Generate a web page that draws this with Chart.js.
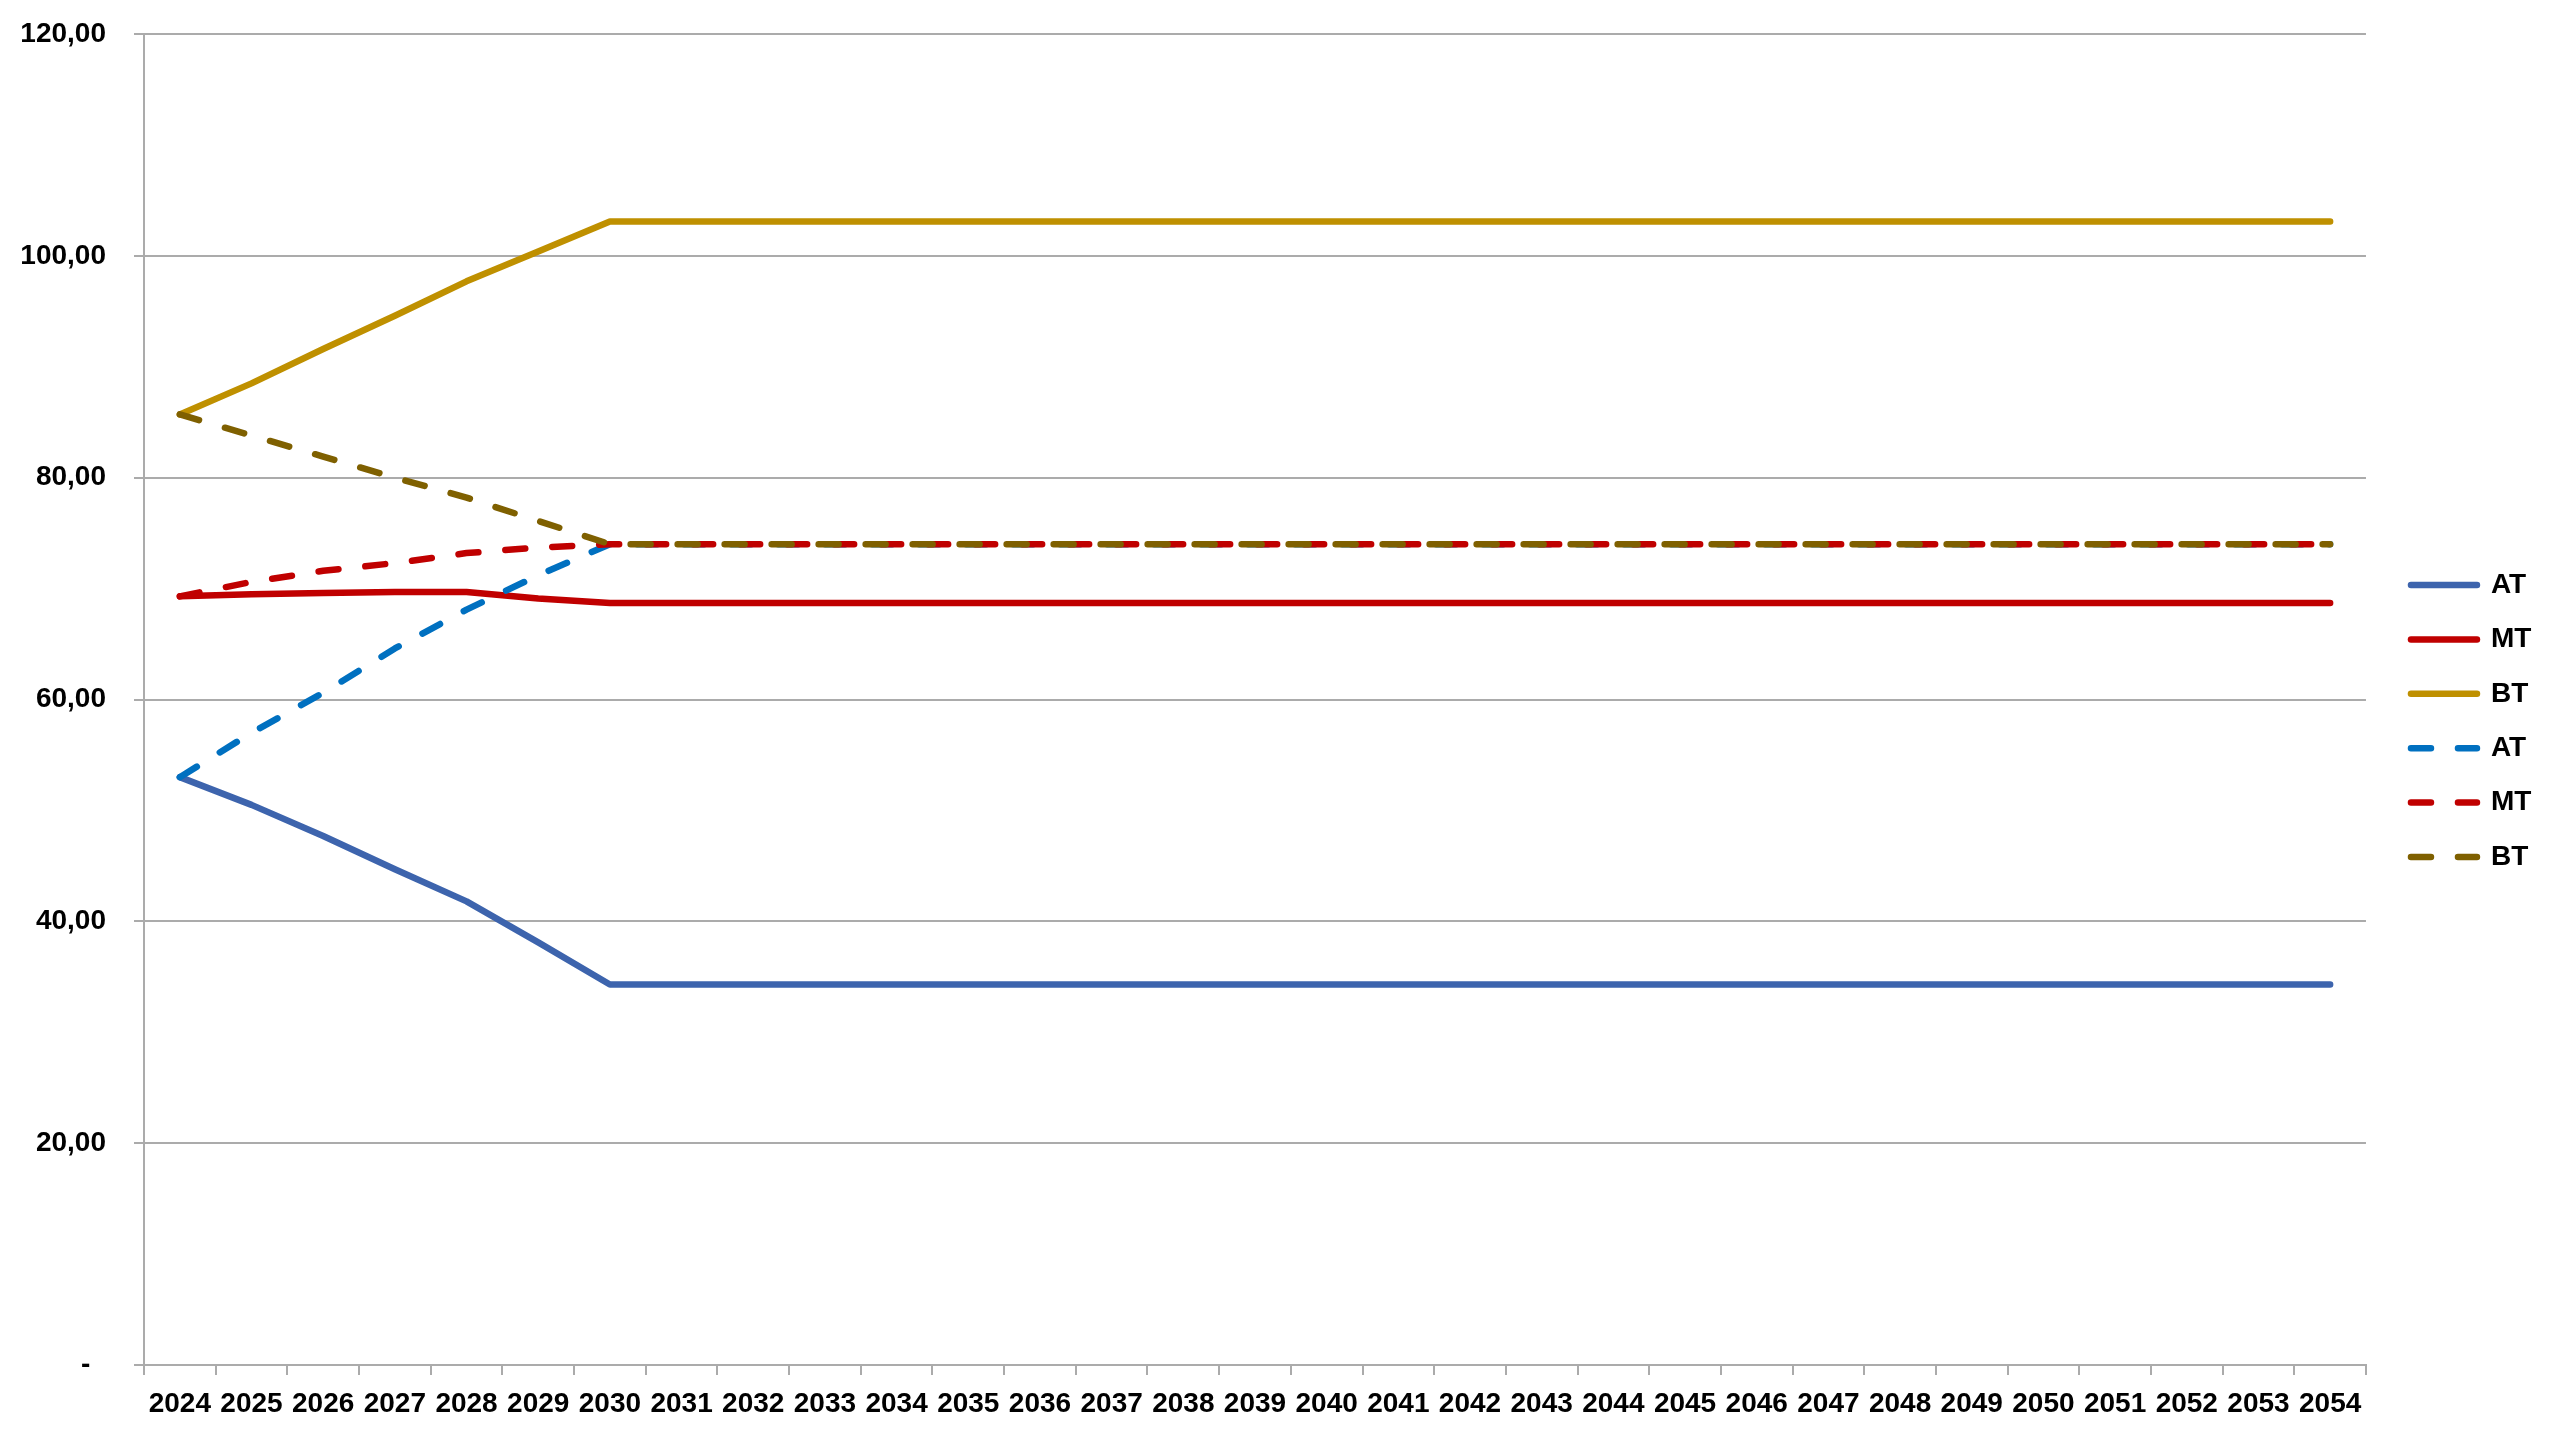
<!DOCTYPE html>
<html>
<head>
<meta charset="utf-8">
<script src="https://cdn.jsdelivr.net/npm/chart.js@4/dist/chart.umd.min.js"></script>
<style>
  html, body { margin: 0; padding: 0; background: #ffffff; }
  #wrap { width: 2560px; height: 1440px; }
</style>
</head>
<body>
<div id="wrap"><canvas id="chart" width="2560" height="1440"></canvas></div>
<script>
// Years on the horizontal axis
const years = [
  '2024','2025','2026','2027','2028','2029','2030','2031','2032','2033','2034',
  '2035','2036','2037','2038','2039','2040','2041','2042','2043','2044','2045',
  '2046','2047','2048','2049','2050','2051','2052','2053','2054'
];

// Solid trajectories
const atSolid = [53.0, 50.5, 47.7, 44.7, 41.8, 38.1, 34.3,
  34.3, 34.3, 34.3, 34.3, 34.3, 34.3, 34.3, 34.3, 34.3, 34.3, 34.3, 34.3, 34.3, 34.3, 34.3,
  34.3, 34.3, 34.3, 34.3, 34.3, 34.3, 34.3, 34.3, 34.3];
const mtSolid = [69.3, 69.5, 69.6, 69.7, 69.7, 69.1, 68.7,
  68.7, 68.7, 68.7, 68.7, 68.7, 68.7, 68.7, 68.7, 68.7, 68.7, 68.7, 68.7, 68.7, 68.7, 68.7,
  68.7, 68.7, 68.7, 68.7, 68.7, 68.7, 68.7, 68.7, 68.7];
const btSolid = [85.7, 88.5, 91.6, 94.6, 97.7, 100.4, 103.1,
  103.1, 103.1, 103.1, 103.1, 103.1, 103.1, 103.1, 103.1, 103.1, 103.1, 103.1, 103.1, 103.1, 103.1, 103.1,
  103.1, 103.1, 103.1, 103.1, 103.1, 103.1, 103.1, 103.1, 103.1];

// Dashed trajectories
const atDashed = [53.0, 57.0, 60.6, 64.6, 68.1, 71.2, 74.0,
  74.0, 74.0, 74.0, 74.0, 74.0, 74.0, 74.0, 74.0, 74.0, 74.0, 74.0, 74.0, 74.0, 74.0, 74.0,
  74.0, 74.0, 74.0, 74.0, 74.0, 74.0, 74.0, 74.0, 74.0];
const mtDashed = [69.3, 70.6, 71.6, 72.3, 73.2, 73.7, 74.0,
  74.0, 74.0, 74.0, 74.0, 74.0, 74.0, 74.0, 74.0, 74.0, 74.0, 74.0, 74.0, 74.0, 74.0, 74.0,
  74.0, 74.0, 74.0, 74.0, 74.0, 74.0, 74.0, 74.0, 74.0];
const btDashed = [85.7, 83.8, 81.9, 80.0, 78.2, 76.1, 74.0,
  74.0, 74.0, 74.0, 74.0, 74.0, 74.0, 74.0, 74.0, 74.0, 74.0, 74.0, 74.0, 74.0, 74.0, 74.0,
  74.0, 74.0, 74.0, 74.0, 74.0, 74.0, 74.0, 74.0, 74.0];

const seriesNames = ['AT', 'MT', 'BT', 'AT', 'MT', 'BT'];
const yTicks = [0, 20, 40, 60, 80, 100, 120];

const FONT = '"Liberation Sans", Arial, sans-serif';
const LINE_W = 6.5;
const DASH = [20, 27];
const GRID = '#ABABAB';

function lineSet(label, data, color, dashed, order) {
  return {
    label, data,
    borderColor: color,
    backgroundColor: color,
    borderWidth: LINE_W,
    borderDash: dashed ? DASH : [],
    borderCapStyle: 'round',
    borderJoinStyle: 'round',
    pointRadius: 0,
    pointHoverRadius: 0,
    tension: 0,
    fill: false,
    order
  };
}

// Nudges the legend block a little right of and above its default slot
const legendNudge = {
  id: 'legendNudge',
  afterLayout(chart) {
    const lg = chart.legend;
    if (!lg) return;
    const dx = 18.6, dy = -16;
    lg.left += dx; lg.right += dx;
    lg.top += dy; lg.bottom += dy;
  }
};

// Legend samples take the stroke (colour, width, dash) of their dataset line
function legendLabels(chart) {
  const items = Chart.defaults.plugins.legend.labels.generateLabels(chart);
  items.forEach(item => {
    const ds = chart.data.datasets[item.datasetIndex];
    item.strokeStyle = ds.borderColor;
    item.fillStyle = ds.borderColor;
    item.lineWidth = ds.borderWidth;
    item.lineDash = ds.borderDash;
    item.lineCap = 'round';
    item.pointStyle = 'line';
  });
  return items.sort((a, b) => a.datasetIndex - b.datasetIndex);
}

new Chart(document.getElementById('chart'), {
  type: 'line',
  data: {
    labels: years,
    datasets: [
      lineSet(seriesNames[0], atSolid, '#3D64AD', false, 6),
      lineSet(seriesNames[1], mtSolid, '#C00000', false, 5),
      lineSet(seriesNames[2], btSolid, '#BF9000', false, 4),
      lineSet(seriesNames[3], atDashed, '#0070C0', true, 3),
      lineSet(seriesNames[4], mtDashed, '#C00000', true, 2),
      lineSet(seriesNames[5], btDashed, '#7F6000', true, 1)
    ]
  },
  plugins: [legendNudge],
  options: {
    responsive: false,
    animation: false,
    devicePixelRatio: 1,
    layout: { padding: { left: 19, top: 34, right: 37.2, bottom: 0 } },
    plugins: {
      tooltip: { enabled: false },
      title: { display: false },
      legend: {
        display: true,
        position: 'right',
        align: 'center',
        labels: {
          usePointStyle: true,
          pointStyle: 'line',
          pointStyleWidth: 66,
          padding: 26.4,
          color: '#000000',
          font: { family: FONT, size: 28, weight: 'bold' },
          generateLabels: legendLabels
        }
      }
    },
    scales: {
      x: {
        type: 'category',
        offset: true,
        afterFit(scale) { scale.height = 75; },
        border: { display: true, color: GRID, width: 2 },
        grid: {
          display: true,
          offset: true,
          drawOnChartArea: false,
          drawTicks: true,
          tickLength: 10,
          color: GRID,
          lineWidth: 2
        },
        ticks: {
          autoSkip: false,
          maxRotation: 0,
          minRotation: 0,
          padding: 12,
          color: '#000000',
          font: { family: FONT, size: 28, weight: 'bold' }
        }
      },
      y: {
        min: 0,
        max: 120,
        afterFit(scale) {
          scale.width = 125;
          scale.paddingTop = 0;
          scale.paddingBottom = 0;
        },
        afterBuildTicks(scale) { scale.ticks = yTicks.map(v => ({ value: v })); },
        border: { display: true, color: GRID, width: 2 },
        grid: {
          display: true,
          drawTicks: true,
          tickLength: 10,
          color: GRID,
          lineWidth: 2
        },
        ticks: {
          padding: 28,
          color: '#000000',
          font: { family: FONT, size: 28, weight: 'bold' },
          callback(value) {
            // accounting style: zero shown as a dash, decimal comma
            if (value === 0) return '-  ';
            return value.toFixed(2).replace('.', ',');
          }
        }
      }
    }
  }
});
</script>
</body>
</html>
